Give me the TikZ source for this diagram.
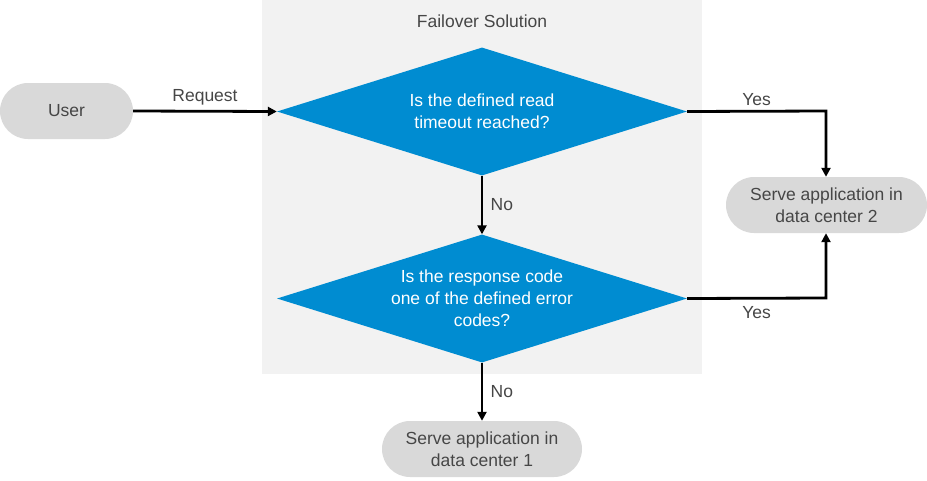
\documentclass[tikz,border=0pt]{standalone}
\usepackage{fontspec}
\setmainfont{Liberation Sans}
\usetikzlibrary{shapes.geometric,arrows.meta}
\definecolor{groupbg}{RGB}{242,242,242}
\definecolor{pillgray}{RGB}{217,217,217}
\definecolor{decblue}{RGB}{0,140,209}
\definecolor{txtgray}{RGB}{70,70,70}
\begin{document}
\begin{tikzpicture}[x=1pt,y=-1pt,
  font=\fontsize{17.5}{22}\selectfont,
  pill/.style={rounded corners=28pt,fill=pillgray,text=txtgray,minimum height=56pt,align=center,inner sep=0pt},
  decision/.style={diamond,fill=decblue,text=white,align=center,inner sep=0pt,minimum width=410pt,minimum height=128pt,aspect=3.2},
  conn/.style={line width=2.8pt,-{Triangle[width=9pt,length=9pt]}},
  lbl/.style={text=txtgray}]
\useasboundingbox (0,0) rectangle (927,480);
\fill[groupbg] (262,0) rectangle (702,374);
\node[lbl] (title) at (482,21) {Failover Solution};
\node[pill,minimum width=133pt] (user) at (66.5,111) {User};
\node[decision] (d1) at (482,111.5) {Is the defined read\\timeout reached?};
\node[decision] (d2) at (482,298.5) {Is the response code\\one of the defined error\\codes?};
\node[pill,minimum width=201pt] (dc2) at (826.5,205) {Serve application in\\data center 2};
\node[pill,minimum width=200pt] (dc1) at (482,449) {Serve application in\\data center 1};
\coordinate (c1) at (826,111);
\coordinate (c2) at (826,298);
\draw[conn] (user.east) -- (d1.west) node[lbl,midway,above=1pt] (req) {Request};
\draw[conn] (d1.east) -- (c1) node[lbl,midway,above=1pt] (y1) {Yes} -- (dc2.north -| c1);
\draw[conn] (d2.east) -- (c2) node[lbl,midway,below=3pt] (y2) {Yes} -- (dc2.south -| c2);
\draw[conn] (d1.south) -- (d2.north) node[lbl,midway,right=4pt] (n1) {No};
\draw[conn] (d2.south) -- (dc1.north) node[lbl,midway,right=4pt] (n2) {No};
\end{tikzpicture}
\end{document}
